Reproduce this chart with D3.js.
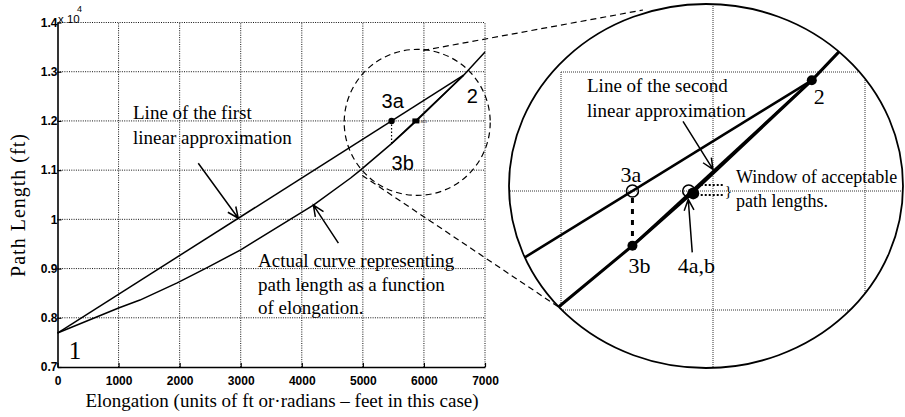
<!DOCTYPE html>
<html><head><meta charset="utf-8">
<script src="https://cdn.jsdelivr.net/npm/d3@7"></script>
<style>
html,body{margin:0;padding:0;background:#fff;}
svg{display:block;}
.serif{font-family:"Liberation Serif","Times New Roman",serif;fill:#000;}
.sans{font-family:"Liberation Sans",Arial,sans-serif;fill:#000;}
</style></head><body>
<svg id="chart" width="905" height="417"></svg>
<script>
// Path length (units of 10^4 ft) as a function of elongation (ft)
const elongation = [0, 1000, 1350, 1960, 2450, 3000, 4190, 4800, 4960, 5470, 5860, 6650, 7000];
const pathLength = [0.769, 0.820, 0.836, 0.871, 0.902, 0.938, 1.029, 1.084, 1.100, 1.154, 1.198, 1.293, 1.340];

// First linear approximation: point 1 to point 2
const firstApproxX = [0, 6650];
const firstApproxY = [0.769, 1.293];
// Second linear approximation: point 3b to point 2
const secondApproxX = [5470, 6650];
const secondApproxY = [1.154, 1.293];

// Iteration points
const pointNames = ["1", "2", "3a", "3b", "4a", "4b"];
const pointX = [0, 6650, 5470, 5470, 5860, 5870];
const pointY = [0.769, 1.293, 1.200, 1.154, 1.200, 1.198];

const xTicks = [0, 1000, 2000, 3000, 4000, 5000, 6000, 7000];
const xTickLabels = ["0", "1000", "2000", "3000", "4000", "5000", "6000", "7000"];
const yTicks = [0.7, 0.8, 0.9, 1.0, 1.1, 1.2, 1.3, 1.4];
const yTickLabels = ["0.7", "0.8", "0.9", "1", "1.1", "1.2", "1.3", "1.4"];

// Grid of the magnified view
const zoomGridX = [5000, 6000, 7000];
const zoomGridY = [1.1, 1.2, 1.3];

const P = {};
pointNames.forEach((n, i) => P[n] = [pointX[i], pointY[i]]);
const curve = elongation.map((e, i) => [e, pathLength[i]]);
const first = firstApproxX.map((e, i) => [e, firstApproxY[i]]);
const second = secondApproxX.map((e, i) => [e, secondApproxY[i]]);

const svg = d3.select("#chart");

// ---------- main plot ----------
const x = d3.scaleLinear().domain([0, 7000]).range([57.5, 485]);
const y = d3.scaleLinear().domain([0.7, 1.4]).range([367, 22.5]);

const grid = svg.append("g").attr("stroke", "#111").attr("stroke-width", 1)
  .attr("stroke-dasharray", "1,1.3").attr("fill", "none");
xTicks.slice(1).forEach(t => grid.append("line")
  .attr("x1", x(t)).attr("x2", x(t)).attr("y1", y(0.7)).attr("y2", y(1.4)));
yTicks.slice(1).forEach(t => grid.append("line")
  .attr("x1", x(0)).attr("x2", x(7000)).attr("y1", y(t)).attr("y2", y(t)));

const xAxis = svg.append("g").attr("transform", `translate(0,${y(0.7)})`)
  .call(d3.axisBottom(x).tickValues(xTicks).tickFormat((d, i) => xTickLabels[i])
    .tickSizeInner(-4).tickSizeOuter(0).tickPadding(9));
const yAxis = svg.append("g").attr("transform", `translate(${x(0)},0)`)
  .call(d3.axisLeft(y).tickValues(yTicks).tickFormat((d, i) => yTickLabels[i])
    .tickSizeInner(-4).tickSizeOuter(0).tickPadding(0));
[xAxis, yAxis].forEach(a => {
  a.select(".domain").attr("stroke", "#000").attr("stroke-width", 1.6);
  a.selectAll(".tick line").attr("stroke", "#000").attr("stroke-width", 1.2);
  a.selectAll(".tick text").attr("class", "sans").attr("font-size", 12)
    .attr("font-weight", "bold").attr("fill", "#000");
});

// exponent marker
svg.append("text").attr("class", "sans").attr("x", 58).attr("y", 23)
  .attr("font-size", 11.5).text("x 10");
svg.append("text").attr("class", "sans").attr("x", 77).attr("y", 12)
  .attr("font-size", 9).text("4");

const line = (sx, sy) => d3.line().x(d => sx(d[0])).y(d => sy(d[1]));
const lm = line(x, y);

svg.append("path").attr("d", lm(first)).attr("fill", "none").attr("stroke", "#000").attr("stroke-width", 1.5);
svg.append("path").attr("d", lm(curve)).attr("fill", "none").attr("stroke", "#000").attr("stroke-width", 1.5);
svg.append("path").attr("d", lm(second)).attr("fill", "none").attr("stroke", "#000").attr("stroke-width", 1.3);

// 3a -> 3b drop and markers
svg.append("line").attr("x1", x(P["3a"][0])).attr("x2", x(P["3b"][0]))
  .attr("y1", y(P["3a"][1])).attr("y2", y(P["3b"][1]))
  .attr("stroke", "#000").attr("stroke-width", 1.2).attr("stroke-dasharray", "1.5,2");
svg.append("circle").attr("cx", x(P["3a"][0])).attr("cy", y(P["3a"][1])).attr("r", 3.2).attr("fill", "#000");
svg.append("rect").attr("x", x(P["4a"][0]) - 3).attr("y", y(P["4a"][1]) - 2.5)
  .attr("width", 7).attr("height", 5).attr("fill", "#000");
svg.append("text").attr("class", "sans").attr("x", x(P["4a"][0]) + 5).attr("y", y(P["4a"][1]) + 2.5)
  .attr("font-size", 6).style("fill", "#666").text("ab");

// magnified-region outline and connectors
const cCenter = [5890, 1.197];
svg.append("circle").attr("cx", x(cCenter[0])).attr("cy", y(cCenter[1])).attr("r", 73)
  .attr("fill", "none").attr("stroke", "#000").attr("stroke-width", 1.2).attr("stroke-dasharray", "6,4");

const ell = { cx: 706, cy: 186, rx: 197, ry: 182 };
const conn = svg.append("g").attr("stroke", "#000").attr("stroke-width", 1.2)
  .attr("stroke-dasharray", "6,4").attr("fill", "none");
conn.append("line").attr("x1", x(cCenter[0]) + 6).attr("y1", y(cCenter[1]) - 72)
  .attr("x2", 643).attr("y2", 10);
conn.append("line").attr("x1", x(cCenter[0]) - 55).attr("y1", y(cCenter[1]) + 53)
  .attr("x2", 560).attr("y2", 308);

// annotation arrows
function arrow(g, x1, y1, x2, y2, w) {
  const a = Math.atan2(y2 - y1, x2 - x1), h = 12, s = 0.42;
  g.append("path")
    .attr("d", `M${x1},${y1}L${x2},${y2}M${x2 - h * Math.cos(a - s)},${y2 - h * Math.sin(a - s)}L${x2},${y2}L${x2 - h * Math.cos(a + s)},${y2 - h * Math.sin(a + s)}`)
    .attr("fill", "none").attr("stroke", "#000").attr("stroke-width", w || 1.5);
}
const firstAt = e => firstApproxY[0] + (firstApproxY[1] - firstApproxY[0]) * (e - firstApproxX[0]) / (firstApproxX[1] - firstApproxX[0]);
const secondAt = e => secondApproxY[0] + (secondApproxY[1] - secondApproxY[0]) * (e - secondApproxX[0]) / (secondApproxX[1] - secondApproxX[0]);

arrow(svg, x(2960) - 40, y(firstAt(2960)) - 55, x(2960), y(firstAt(2960)));
arrow(svg, x(4190) + 25, y(1.029) + 38, x(4190), y(1.029));

// main annotations
const txt = (cls, tx, ty, size, s) => svg.append("text").attr("class", cls)
  .attr("x", tx).attr("y", ty).attr("font-size", size).text(s);
txt("serif", 133, 119, 19, "Line of the first");
txt("serif", 133, 144, 19, "linear approximation");
txt("serif", 258, 267, 19, "Actual curve representing");
txt("serif", 258, 291, 19, "path length as a function");
txt("serif", 258, 314, 19, "of elongation.");
txt("serif", 75, 359, 25, "1").attr("text-anchor", "middle");
txt("sans", x(P["3a"][0]) - 10, y(P["3a"][1]) - 13, 20, "3a");
txt("sans", x(P["3b"][0]), y(P["3b"][1]) + 26, 20, "3b");
txt("sans", x(P["2"][0]) + 3, y(P["2"][1]) + 28, 20, "2");

// axis titles
txt("serif", 282, 407, 19, "Elongation (units of ft or\u00b7radians \u2013 feet in this case)")
  .attr("text-anchor", "middle");
svg.append("text").attr("class", "serif").attr("transform", "translate(25,205) rotate(-90)")
  .attr("text-anchor", "middle").attr("font-size", 20).attr("letter-spacing", 1)
  .text("Path Length (ft)");

// ---------- magnified view ----------
const xz = d3.scaleLinear().domain([5000, 6000]).range([561, 713]);
const yz = d3.scaleLinear().domain([1.1, 1.3]).range([310, 72]);
const lz = line(xz, yz);

svg.append("defs").append("clipPath").attr("id", "lens")
  .append("ellipse").attr("cx", ell.cx).attr("cy", ell.cy).attr("rx", ell.rx).attr("ry", ell.ry);
const zg = svg.append("g").attr("clip-path", "url(#lens)");

const zgrid = zg.append("g").attr("stroke", "#333").attr("stroke-width", 1)
  .attr("stroke-dasharray", "1,1").attr("fill", "none");
zoomGridX.forEach(t => {
  const full = t === 6000;
  zgrid.append("line").attr("x1", xz(t)).attr("x2", xz(t))
    .attr("y1", full ? 0 : yz(1.3)).attr("y2", full ? 417 : yz(1.1));
});
zoomGridY.forEach(t => {
  const full = t === 1.2;
  zgrid.append("line").attr("y1", yz(t)).attr("y2", yz(t))
    .attr("x1", full ? 480 : xz(5000)).attr("x2", full ? 905 : xz(7000));
});

zg.append("path").attr("d", lz(first)).attr("fill", "none").attr("stroke", "#000").attr("stroke-width", 2.6);
zg.append("path").attr("d", lz(curve)).attr("fill", "none").attr("stroke", "#000").attr("stroke-width", 3);
zg.append("path").attr("d", lz(second)).attr("fill", "none").attr("stroke", "#000").attr("stroke-width", 2.6);

svg.append("ellipse").attr("cx", ell.cx).attr("cy", ell.cy).attr("rx", ell.rx).attr("ry", ell.ry)
  .attr("fill", "none").attr("stroke", "#000").attr("stroke-width", 1.8);

// 3a -> 3b drop
svg.append("line").attr("x1", xz(P["3a"][0])).attr("x2", xz(P["3b"][0]))
  .attr("y1", yz(P["3a"][1]) + 7).attr("y2", yz(P["3b"][1]) - 5)
  .attr("stroke", "#000").attr("stroke-width", 3).attr("stroke-dasharray", "5,6");

// points
svg.append("circle").attr("cx", xz(P["3a"][0])).attr("cy", yz(P["3a"][1])).attr("r", 6)
  .attr("fill", "none").attr("stroke", "#000").attr("stroke-width", 1.6);
svg.append("circle").attr("cx", xz(P["4a"][0]) - 3).attr("cy", yz(P["4a"][1])).attr("r", 6)
  .attr("fill", "none").attr("stroke", "#000").attr("stroke-width", 1.6);
[["3b", 5], ["2", 5], ["4b", 6]].forEach(([n, r]) => svg.append("circle")
  .attr("cx", xz(P[n][0])).attr("cy", yz(P[n][1])).attr("r", r).attr("fill", "#000"));

// window of acceptable path lengths
const wx = xz(P["4a"][0]), wy = yz(P["4a"][1]);
const win = svg.append("g").attr("stroke", "#000").attr("stroke-width", 2).attr("stroke-dasharray", "2,2");
win.append("line").attr("x1", wx + 9).attr("x2", wx + 31).attr("y1", wy - 6).attr("y2", wy - 6);
win.append("line").attr("x1", wx + 9).attr("x2", wx + 31).attr("y1", wy + 4).attr("y2", wy + 4);
txt("serif", wx + 33, wy + 5, 15, "}");

// arrows in magnified view
arrow(svg, xz(6000) - 30, yz(secondAt(6000)) - 50, xz(6000), yz(secondAt(6000)) - 2, 1.5);
arrow(svg, xz(P["4b"][0]) - 1, yz(P["4b"][1]) + 59, xz(P["4b"][0]) - 5, yz(P["4b"][1]) + 6, 1.5);

// magnified-view annotations
txt("serif", 587, 92, 19, "Line of the second");
txt("serif", 587, 117, 19, "linear approximation");
txt("serif", 736, 183, 18, "Window of acceptable");
txt("serif", 736, 207, 18, "path lengths.");
txt("serif", xz(P["3a"][0]) - 12, yz(P["3a"][1]) - 9, 22, "3a");
txt("serif", xz(P["3b"][0]) - 4, yz(P["3b"][1]) + 27, 22, "3b");
txt("serif", xz(P["4a"][0]) - 14, yz(P["3b"][1]) + 27, 22, "4a,b");
txt("serif", xz(P["2"][0]) + 2, yz(P["2"][1]) + 24, 22, "2");
</script>
</body></html>
